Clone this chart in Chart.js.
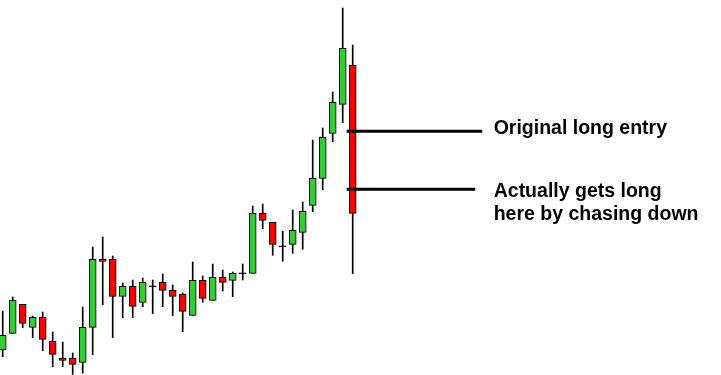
<!DOCTYPE html>
<html>
<head>
<meta charset="utf-8">
<script src="https://cdn.jsdelivr.net/npm/chart.js@4/dist/chart.umd.min.js"></script>
<style>
html,body{margin:0;padding:0;background:#fff;}
#wrap{width:721px;height:375px;position:relative;}
</style>
</head>
<body>
<div id="wrap"><canvas id="c"></canvas></div>
<script>
// Candle values (price units)
const openV  = [25,41.7,70.7,47.7,57.7,33.7,17,17,12.7,47.7,115.7,115.7,78.7,88.7,72.7,88.7,92.7,84.7,80.7,59.7,94.7,74.7,97.7,94.7,101.7,101.7,161.7,152.7,128.7,130.7,142.7,169.7,196.7,241.7,270.7,309.7];
const closeV = [39.7,74.7,51.7,57.7,35.7,20.7,14.7,10.7,47.7,115.7,113.7,78.7,88.7,68.7,92.7,88.7,84.7,78.7,63.7,94.7,76.7,97.7,92.7,101.7,101.7,161.7,154.7,130.7,128.7,144.7,163.7,196.7,237.7,272.7,326.7,161.7];
const highV  = [64,78,70.7,59,63,43,33,22,68,128,138,119,92,95,97,95,101,90,82,113,99,111,105,103,111,169,171,152.7,143.7,165,173,235,247,283,367,330];
const lowV   = [18.3,41.7,47.3,37.3,24.3,8.3,8.3,0.7,1.7,20.3,70.3,37.3,57.3,57.3,68.3,61.3,68.3,59.3,43.3,59.7,72.7,74.7,84,78.3,95,101.7,146.3,119.7,113.7,121.7,125.7,163.3,185.3,233.3,252.3,101.3];

// Annotation levels and labels
const entryLevels = [243.7, 185.7];
const entryLineEnds = [47.95, 47.25];
const labelLines = [["Original long entry"], ["Actually gets long", "here by chasing down"]];

const idx = openV.map((_, i) => i);
const GREEN = '#32CD32', RED = '#FF0000', BLACK = '#000000';

const bodyData = idx.map(i => {
  let lo = Math.min(openV[i], closeV[i]), hi = Math.max(openV[i], closeV[i]);
  if (hi - lo < 1) { lo -= 0.5; hi += 0.5; }
  return {x: i, y: [lo, hi]};
});
const bodyColors = idx.map(i => closeV[i] > openV[i] ? GREEN : (closeV[i] < openV[i] ? RED : BLACK));
const wickData = idx.map(i => ({x: i, y: [lowV[i], highV[i]]}));

const lineStart = 34.4;
const lineDatasets = entryLevels.map((lv, k) => ({
  type: 'line',
  data: [{x: lineStart, y: lv}, {x: entryLineEnds[k], y: lv}],
  borderColor: BLACK,
  borderWidth: 3,
  pointRadius: 0,
  order: 0,
  borderCapStyle: 'butt'
}));

const textPlugin = {
  id: 'labels',
  afterDraw(chart) {
    const ctx = chart.ctx;
    const xs = chart.scales.x, ys = chart.scales.y;
    ctx.save();
    ctx.fillStyle = '#000';
    ctx.font = 'bold 19.5px "Liberation Sans", Arial, sans-serif';
    ctx.textBaseline = 'alphabetic';
    ctx.textAlign = 'left';
    const tx = xs.getPixelForValue(49.1);
    ctx.fillText(labelLines[0][0], tx, ys.getPixelForValue(entryLevels[0]) + 3);
    ctx.fillText(labelLines[1][0], tx, ys.getPixelForValue(entryLevels[1]) + 8);
    ctx.fillText(labelLines[1][1], tx, ys.getPixelForValue(entryLevels[1]) + 31);
    ctx.restore();
  }
};

new Chart(document.getElementById('c'), {
  type: 'bar',
  data: {
    datasets: [
      ...lineDatasets,
      {
        data: bodyData,
        backgroundColor: bodyColors,
        borderColor: BLACK,
        borderWidth: 1,
        borderSkipped: false,
        barThickness: 7,
        grouped: false,
        order: 1
      },
      {
        data: wickData,
        backgroundColor: BLACK,
        borderWidth: 0,
        barThickness: 1,
        grouped: false,
        order: 2
      }
    ]
  },
  options: {
    responsive: true,
    maintainAspectRatio: false,
    animation: false,
    layout: {padding: 0},
    plugins: {legend: {display: false}, tooltip: {enabled: false}},
    scales: {
      x: {type: 'linear', display: false, min: -0.27, max: 71.83, offset: false},
      y: {display: false, min: 0, max: 375}
    }
  },
  plugins: [textPlugin]
});
</script>
</body>
</html>
